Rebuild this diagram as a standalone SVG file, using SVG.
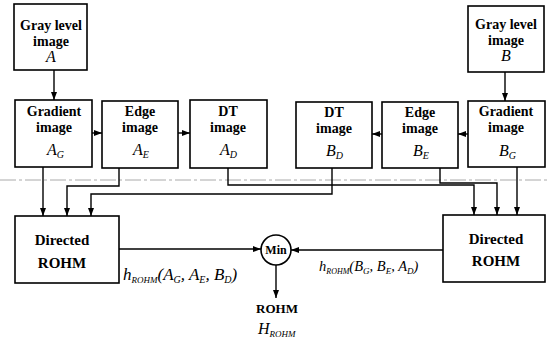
<svg xmlns="http://www.w3.org/2000/svg" width="550" height="346" viewBox="0 0 550 346">
<defs>
<marker id="ah" viewBox="0 0 8 6" refX="8" refY="3" markerWidth="8" markerHeight="6" orient="auto" markerUnits="userSpaceOnUse"><path d="M0,0 L8,3 L0,6 z" fill="#000"/></marker>
</defs>
<style>
.box{fill:#fff;stroke:#000;stroke-width:1.6}
.w{fill:none;stroke:#000;stroke-width:1.4;marker-end:url(#ah)}
.l{font-family:"Liberation Serif","Times New Roman",serif;font-weight:bold;font-size:14px;text-anchor:middle;fill:#000}
.d{font-size:15px}
.m{font-family:"Liberation Serif","Times New Roman",serif;font-style:italic;font-size:16px;fill:#000}
.s{font-size:10px}
.ss{font-size:9px}
</style>
<rect width="550" height="346" fill="#fff"/>
<line x1="0" y1="180" x2="550" y2="180" stroke="#aaa" stroke-width="1" stroke-dasharray="16 3 3 3"/>
<g id="connectors">
<path class="w" d="M54,70 V100"/>
<path class="w" d="M505,72 V101"/>
<path class="w" d="M92,133 H102"/>
<path class="w" d="M178,133 H190"/>
<path class="w" d="M468,134 H458"/>
<path class="w" d="M382,134 H372"/>
<path class="w" d="M43,167 V216"/>
<path class="w" d="M119,168 V186 H67 V216"/>
<path class="w" d="M332,168 V194 H91 V216"/>
<path class="w" d="M228,168 V185 H474 V215"/>
<path class="w" d="M440,168 V183 H497 V215"/>
<path class="w" d="M517,167 V215"/>
<path class="w" d="M119,249 H261"/>
<path class="w" d="M443,250 H291"/>
<path class="w" d="M276,265 V298"/>
</g>
<g id="grayA">
<rect class="box" x="14" y="4" width="73" height="66"/>
<text class="l" x="51" y="30">Gray level</text>
<text class="l" x="51" y="46">image</text>
<text class="m" x="51" y="62" text-anchor="middle">A</text>
</g>
<g id="grayB">
<rect class="box" x="468" y="6" width="76" height="66"/>
<text class="l" x="506" y="29">Gray level</text>
<text class="l" x="506" y="45">image</text>
<text class="m" x="506" y="61" text-anchor="middle">B</text>
</g>
<g id="gradA">
<rect class="box" x="15" y="100" width="77" height="67"/>
<text class="l" x="54" y="116">Gradient</text>
<text class="l" x="54" y="132">image</text>
<text class="m" x="47" y="155">A<tspan class="s" dy="3">G</tspan></text>
</g>
<g id="edgeA">
<rect class="box" x="102" y="101" width="76" height="67"/>
<text class="l" x="140" y="116">Edge</text>
<text class="l" x="140" y="132">image</text>
<text class="m" x="133" y="155">A<tspan class="s" dy="3">E</tspan></text>
</g>
<g id="dtA">
<rect class="box" x="190" y="100" width="77" height="68"/>
<text class="l" x="228" y="116">DT</text>
<text class="l" x="228" y="132">image</text>
<text class="m" x="220" y="155">A<tspan class="s" dy="3">D</tspan></text>
</g>
<g id="dtB">
<rect class="box" x="296" y="102" width="76" height="66"/>
<text class="l" x="334" y="117">DT</text>
<text class="l" x="334" y="133">image</text>
<text class="m" x="326" y="156">B<tspan class="s" dy="3">D</tspan></text>
</g>
<g id="edgeB">
<rect class="box" x="382" y="102" width="76" height="66"/>
<text class="l" x="420" y="117">Edge</text>
<text class="l" x="420" y="133">image</text>
<text class="m" x="413" y="156">B<tspan class="s" dy="3">E</tspan></text>
</g>
<g id="gradB">
<rect class="box" x="468" y="101" width="77" height="66"/>
<text class="l" x="506" y="116">Gradient</text>
<text class="l" x="506" y="132">image</text>
<text class="m" x="499" y="156">B<tspan class="s" dy="3">G</tspan></text>
</g>
<g id="dirA">
<rect class="box" x="15" y="216" width="104" height="67"/>
<text class="l d" x="62" y="245">Directed</text>
<text class="l d" x="62" y="268">ROHM</text>
</g>
<g id="dirB">
<rect class="box" x="443" y="215" width="102" height="67"/>
<text class="l d" x="496" y="244">Directed</text>
<text class="l d" x="496" y="266">ROHM</text>
</g>
<g id="min">
<circle cx="276" cy="250" r="15" fill="#fff" stroke="#000" stroke-width="1.6"/>
<text class="l" x="276" y="254" style="font-size:12px">Min</text>
</g>
<g id="labels">
<text class="m" x="123" y="280" style="font-size:17px">h<tspan class="ss" dy="3">ROHM</tspan><tspan dy="-3">(A</tspan><tspan class="s" dy="3">G</tspan><tspan dy="-3">, A</tspan><tspan class="s" dy="3">E</tspan><tspan dy="-3">, B</tspan><tspan class="s" dy="3">D</tspan><tspan dy="-3">)</tspan></text>
<text class="m" x="319" y="271" style="font-size:14.5px">h<tspan style="font-size:8px" dy="3">ROHM</tspan><tspan dy="-3">(B</tspan><tspan style="font-size:9px" dy="3">G</tspan><tspan dy="-3">, B</tspan><tspan style="font-size:9px" dy="3">E</tspan><tspan dy="-3">, A</tspan><tspan style="font-size:9px" dy="3">D</tspan><tspan dy="-3">)</tspan></text>
</g>
<g id="out">
<text class="l" x="277" y="313" style="font-size:13px">ROHM</text>
<text class="m" x="258" y="334">H<tspan class="ss" dy="3">ROHM</tspan></text>
</g>
</svg>
